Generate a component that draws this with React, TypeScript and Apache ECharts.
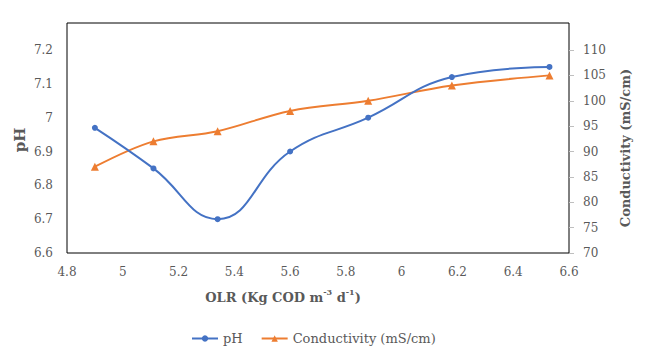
import React, { useEffect, useRef } from 'react';
import * as echarts from 'echarts';

const olr = [4.9, 5.11, 5.34, 5.6, 5.88, 6.18, 6.53];
const ph = [6.97, 6.85, 6.7, 6.9, 7.0, 7.12, 7.15];
const conductivity = [87, 92, 94, 98, 100, 103, 105];
const phAxis = { min: 6.6, max: 7.2, interval: 0.1 };
const condAxis = { min: 70, max: 110, interval: 5 };
const xAxisRange = { min: 4.8, max: 6.6, interval: 0.2 };

const FONT = '"DejaVu Serif", "Liberation Serif", serif';
const GREY = '#595959';

export default function App() {
  const ref = useRef<HTMLDivElement>(null);
  useEffect(() => {
    if (!ref.current) return;
    const chart = echarts.init(ref.current, null, { renderer: 'svg' });
    const tickLabel = { color: GREY, fontFamily: FONT, fontSize: 12 };
    chart.setOption({
      animation: false,
      backgroundColor: '#fff',
      grid: { left: 67, right: 81, top: 50, bottom: 99, containLabel: false },
      xAxis: {
        type: 'value',
        ...xAxisRange,
        axisLine: { show: false },
        axisTick: { show: false },
        splitLine: { show: false },
        axisLabel: { ...tickLabel, margin: 13 },
      },
      yAxis: [
        {
          type: 'value',
          ...phAxis,
          axisLine: { show: false },
          axisTick: { show: false },
          splitLine: { show: false },
          axisLabel: { ...tickLabel, margin: 14 },
        },
        {
          type: 'value',
          position: 'right',
          ...condAxis,
          axisLine: { show: false },
          axisTick: { show: true, length: 5, lineStyle: { color: '#bfbfbf' } },
          splitLine: { show: false },
          axisLabel: { ...tickLabel, margin: 14 },
        },
      ],
      legend: {
        top: 327,
        left: 186,
        itemWidth: 26,
        itemHeight: 8,
        itemGap: 18,
        textStyle: { color: GREY, fontFamily: FONT, fontSize: 13 },
        data: ['pH', 'Conductivity (mS/cm)'],
      },
      graphic: [
        {
          type: 'rect',
          shape: { x: 67, y: 23, width: 502, height: 230 },
          style: { fill: 'none', stroke: '#000', lineWidth: 1 },
          silent: true,
          z: 0,
        },
        {
          type: 'text',
          x: 20,
          y: 140,
          rotation: Math.PI / 2,
          style: {
            text: 'pH',
            fill: GREY,
            font: `bold 15px ${FONT}`,
            align: 'center',
            verticalAlign: 'middle',
          },
        },
        {
          type: 'text',
          x: 625,
          y: 148,
          rotation: Math.PI / 2,
          style: {
            text: 'Conductivity (mS/cm)',
            fill: GREY,
            font: `bold 13px ${FONT}`,
            align: 'center',
            verticalAlign: 'middle',
          },
        },
        {
          type: 'text',
          x: 283,
          y: 297,
          style: {
            text: '{b|OLR (Kg COD m}{s|-3}{b| d}{s|-1}{b|)}',
            align: 'center',
            verticalAlign: 'middle',
            rich: {
              b: { fill: GREY, fontFamily: FONT, fontWeight: 'bold', fontSize: 13, lineHeight: 18 },
              s: { fill: GREY, fontFamily: FONT, fontWeight: 'bold', fontSize: 8, lineHeight: 18, verticalAlign: 'top' },
            },
          },
        },
      ],
      series: [
        {
          name: 'pH',
          type: 'line',
          yAxisIndex: 0,
          smooth: 0.45,
          symbol: 'circle',
          symbolSize: 6,
          data: olr.map((x, i) => [x, ph[i]]),
          lineStyle: { color: '#4472C4', width: 2 },
          itemStyle: { color: '#4472C4' },
          z: 3,
        },
        {
          name: 'Conductivity (mS/cm)',
          type: 'line',
          yAxisIndex: 1,
          smooth: 0.35,
          symbol: 'triangle',
          symbolSize: 8,
          data: olr.map((x, i) => [x, conductivity[i]]),
          lineStyle: { color: '#ED7D31', width: 2 },
          itemStyle: { color: '#ED7D31' },
          z: 2,
        },
      ],
    });
    return () => chart.dispose();
  }, []);
  return (
    <div
      ref={ref}
      style={{ position: 'fixed', left: 0, top: 0, width: 650, height: 352, background: '#fff' }}
    />
  );
}
